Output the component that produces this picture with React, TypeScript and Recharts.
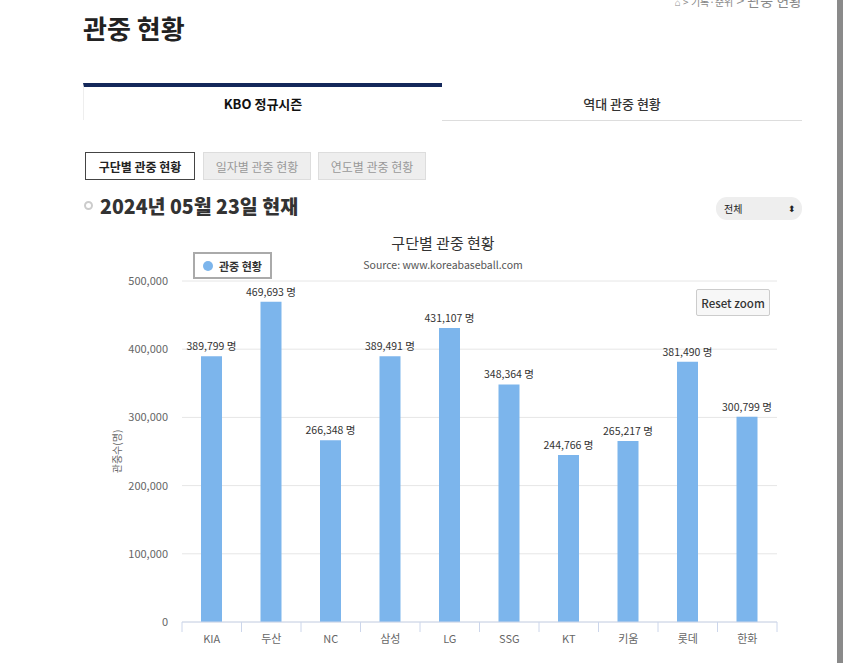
import { BarChart, Bar, XAxis, YAxis, CartesianGrid, Legend, LabelList } from 'recharts';

const teams = ['KIA', '두산', 'NC', '삼성', 'LG', 'SSG', 'KT', '키움', '롯데', '한화'];
const attendance = [389799, 469693, 266348, 389491, 431107, 348364, 244766, 265217, 381490, 300799];
const yTicks = [0, 100000, 200000, 300000, 400000, 500000];

const FONT = '"Noto Sans CJK KR", "Noto Sans", sans-serif';
const BAR_COLOR = '#7cb5ec';

const CHART_W = 700;
const CHART_H = 433;
const MARGIN = { top: 24, right: 23, left: 0, bottom: 11 };
const Y_AXIS_W = 82;
const BAND = (CHART_W - MARGIN.left - MARGIN.right - Y_AXIS_W) / teams.length;

const chartData = teams.map((team, i) => ({ team, value: attendance[i] }));

function TeamTick(props: any) {
  const { x, y, payload, index } = props;
  return (
    <g>
      <line x1={x - BAND / 2} x2={x - BAND / 2} y1={y} y2={y + 10} stroke="#ccd6eb" />
      {index === teams.length - 1 && (
        <line x1={x + BAND / 2} x2={x + BAND / 2} y1={y} y2={y + 10} stroke="#ccd6eb" />
      )}
      <text x={x} y={y + 18} textAnchor="middle" dominantBaseline="middle" fontSize={11} fill="#666" fontFamily={FONT}>
        {payload.value}
      </text>
    </g>
  );
}

function ValueLabel(props: any) {
  const { x, y, width, value } = props;
  return (
    <text x={x + width / 2} y={y - 9} textAnchor="middle" dominantBaseline="middle" fontSize={10.5} fill="#333" fontFamily={FONT}>
      {`${Number(value).toLocaleString('en-US')} 명`}
    </text>
  );
}

function LegendBox() {
  return (
    <div
      style={{
        display: 'flex',
        alignItems: 'center',
        gap: 6,
        border: '2px solid #aaa',
        padding: '3px 8px 3px 8px',
        height: 17,
        boxSizing: 'content-box',
        fontSize: 11,
        fontWeight: 700,
        color: '#333',
        fontFamily: FONT,
        background: '#fff',
      }}
    >
      <span style={{ width: 10, height: 10, borderRadius: 5, background: BAR_COLOR, display: 'inline-block' }} />
      관중 현황
    </div>
  );
}

const subBtn = (active: boolean): React.CSSProperties => ({
  position: 'absolute',
  top: 152,
  height: 28,
  boxSizing: 'border-box',
  display: 'flex',
  alignItems: 'center',
  justifyContent: 'center',
  fontSize: 12,
  fontWeight: active ? 700 : 400,
  color: active ? '#222' : '#999',
  background: active ? '#fff' : '#eee',
  border: active ? '1.5px solid #444' : '1px solid #ddd',
});

export default function App() {
  return (
    <div
      style={{
        position: 'absolute',
        left: 0,
        top: 0,
        width: 850,
        height: 663,
        overflow: 'hidden',
        background: '#fff',
        fontFamily: FONT,
      }}
    >
      {/* breadcrumb, cut off at the top */}
      <div style={{ position: 'absolute', right: 48, top: -10, fontSize: 14, color: '#888', whiteSpace: 'nowrap' }}>
        <span style={{ fontSize: 10 }}>⌂ &gt; 기록·순위</span> &gt; 관중 현황
      </div>

      <div style={{ position: 'absolute', left: 83, top: 9, fontSize: 26, fontWeight: 600, color: '#222' }}>관중 현황</div>

      {/* tabs */}
      <div
        style={{
          position: 'absolute',
          left: 83,
          top: 83,
          width: 359,
          height: 37,
          boxSizing: 'border-box',
          borderTop: '4px solid #14285a',
          borderLeft: '1px solid #eee',
          display: 'flex',
          alignItems: 'center',
          justifyContent: 'center',
          fontSize: 13,
          fontWeight: 700,
          color: '#111',
        }}
      >
        KBO 정규시즌
      </div>
      <div
        style={{
          position: 'absolute',
          left: 442,
          top: 83,
          width: 360,
          height: 38,
          boxSizing: 'border-box',
          borderBottom: '1px solid #ddd',
          display: 'flex',
          alignItems: 'center',
          justifyContent: 'center',
          paddingTop: 4,
          fontSize: 13,
          fontWeight: 500,
          color: '#333',
        }}
      >
        역대 관중 현황
      </div>

      <div style={{ ...subBtn(true), left: 85, width: 110 }}>구단별 관중 현황</div>
      <div style={{ ...subBtn(false), left: 203, width: 108 }}>일자별 관중 현황</div>
      <div style={{ ...subBtn(false), left: 318, width: 108 }}>연도별 관중 현황</div>

      {/* date heading */}
      <div
        style={{
          position: 'absolute',
          left: 84,
          top: 201,
          width: 9,
          height: 9,
          borderRadius: 5,
          border: '2px solid #ccc',
          boxSizing: 'border-box',
        }}
      />
      <div style={{ position: 'absolute', left: 100, top: 191, fontSize: 19.5, fontWeight: 800, color: '#333', whiteSpace: 'nowrap' }}>
        2024년 05월 23일 현재
      </div>

      <div
        style={{
          position: 'absolute',
          left: 716,
          top: 197,
          width: 86,
          height: 23,
          borderRadius: 11,
          background: '#eee',
          fontSize: 10,
          color: '#222',
          display: 'flex',
          alignItems: 'center',
          justifyContent: 'space-between',
          padding: '0 6px 0 8px',
          boxSizing: 'border-box',
        }}
      >
        <span>전체</span>
        <span style={{ fontSize: 9 }}>⬍</span>
      </div>

      {/* chart titles */}
      <div style={{ position: 'absolute', left: 243, width: 400, top: 232, textAlign: 'center', fontSize: 15, color: '#333' }}>
        구단별 관중 현황
      </div>
      <div style={{ position: 'absolute', left: 243, width: 400, top: 257, textAlign: 'center', fontSize: 10.5, color: '#555' }}>
        Source: www.koreabaseball.com
      </div>

      <div style={{ position: 'absolute', left: 100, top: 230 }}>
        <BarChart width={CHART_W} height={CHART_H} data={chartData} margin={MARGIN}>
          <CartesianGrid vertical={false} stroke="#e6e6e6" />
          <XAxis
            dataKey="team"
            axisLine={{ stroke: '#ccd6eb' }}
            tickLine={false}
            tickSize={0}
            tickMargin={0}
            height={30}
            interval={0}
            tick={<TeamTick />}
          />
          <YAxis
            width={Y_AXIS_W}
            domain={[0, 500000]}
            ticks={yTicks}
            axisLine={false}
            tickLine={false}
            tickSize={6}
            tickMargin={8}
            tick={{ fontSize: 11, fill: '#666', fontFamily: FONT }}
            tickFormatter={(v: number) => v.toLocaleString('en-US')}
            label={{
              value: '관중수(명)',
              angle: -90,
              position: 'insideLeft',
              offset: 17,
              style: { textAnchor: 'middle', fontSize: 10, fill: '#666', fontFamily: FONT },
            }}
          />
          <Legend
            verticalAlign="top"
            align="left"
            content={<LegendBox />}
            wrapperStyle={{ left: 93, top: 22, width: 'auto' }}
          />
          <Bar dataKey="value" name="관중 현황" fill={BAR_COLOR} barSize={21} isAnimationActive={false}>
            <LabelList dataKey="value" content={<ValueLabel />} />
          </Bar>
        </BarChart>
      </div>

      <div
        style={{
          position: 'absolute',
          left: 696,
          top: 289,
          width: 74,
          height: 27,
          boxSizing: 'border-box',
          background: '#f7f7f7',
          border: '1px solid #ccc',
          borderRadius: 2,
          display: 'flex',
          alignItems: 'center',
          justifyContent: 'center',
          fontSize: 11.5,
          fontWeight: 500,
          color: '#333',
        }}
      >
        Reset zoom
      </div>

      {/* scrollbar edge */}
      <div style={{ position: 'absolute', left: 837, top: 0, width: 6, height: 663, background: '#8a8a8a' }} />
    </div>
  );
}
